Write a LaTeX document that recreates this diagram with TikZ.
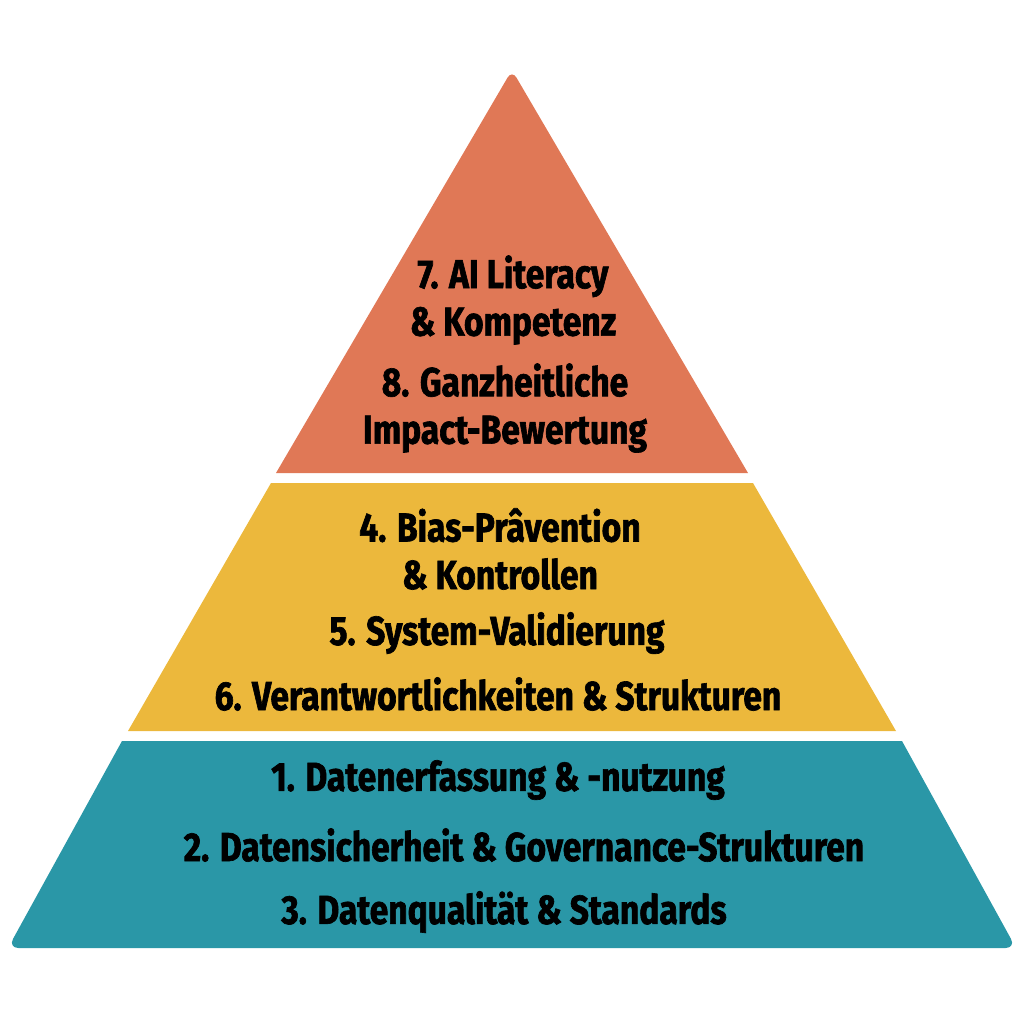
\documentclass[tikz,border=0pt]{standalone}
\usepackage{fontspec}
\setmainfont{Fira Sans}[FakeStretch=0.83, BoldFeatures={FakeBold=1.6}]
\usetikzlibrary{positioning}
\definecolor{toporange}{HTML}{E07856}
\definecolor{midyellow}{HTML}{ECB83C}
\definecolor{baseteal}{HTML}{2A97A7}
\tikzset{x=0.01cm, y=-0.01cm, % one unit is one pixel of the picture
layer/.style={line join=round}, % each band of the pyramid
label/.style={font=\bfseries\fontsize{11.5}{13.5}\selectfont, align=center, text=black, inner sep=0pt}, % text in the bands
}
\begin{document}
\begin{tikzpicture}
\useasboundingbox (0,0) rectangle (1024,1024);
% the three bands
\fill[layer, toporange] (276,473) [rounded corners=2.5pt] -- (512,70) [sharp corners] -- (748,473) -- cycle;
\fill[layer, midyellow] (271,483) -- (753,483) -- (896,731) -- (128,731) -- cycle;
\fill[layer, baseteal] (122,741) -- (902,741) [rounded corners=3pt] -- (1016,948) -- (8,948) [sharp corners] -- cycle;
% top band
\node[label] (t7) at (513,300) {7. AI Literacy\\ \& Kompetenz};
\node[label] (t8) at (505,408) {8. Ganzheitliche\\ Impact-Bewertung};
% middle band
\node[label] (m4) at (500,549) {4. Bias-Prâvention\\ \& Kontrollen};
\node[label] (m5) at (497,633) {5. System-Validierung};
\node[label] (m6) at (498,694) {6. Verantwortlichkeiten \& Strukturen};
% bottom band
\node[label] (b1) at (498,780) {1. Datenerfassung \& -nutzung};
\node[label] (b2) at (524,845) {2. Datensicherheit \& Governance-Strukturen};
\node[label] (b3) at (504,912) {3. Datenqualität \& Standards};
\end{tikzpicture}
\end{document}
